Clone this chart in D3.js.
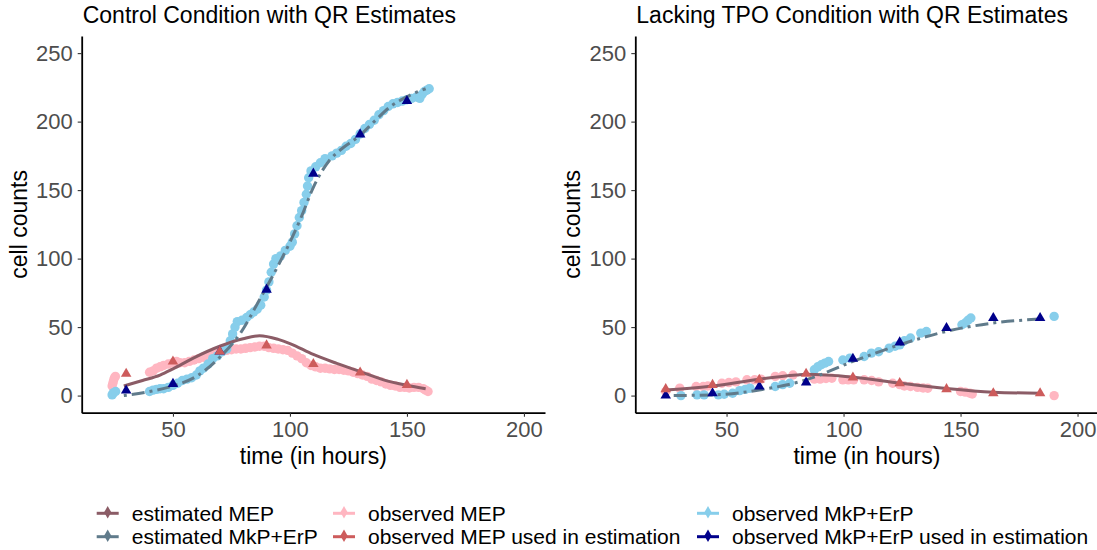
<!DOCTYPE html>
<html>
<head>
<meta charset="utf-8">
<style>
  body { margin: 0; background: #fff; }
  svg { display: block; font-family: "Liberation Sans", Arial, sans-serif; }
</style>
<script src="https://d3js.org/d3.v7.min.js"></script>
<script>

// ---- data: [time (h), cell count] pairs ----

// Control condition
var ctrlObsMEP = [[24,7],[24.3,9],[24.6,11],[25,13],[25.4,14],[40,17],[41.5,18],[43,20],[44.5,21],[46,22],[48,23],[50,24],
  [51.5,25],[53,24],[55,24],[57,25],[59,26],[61,27],[63,28],[65,28.5],[67,30],[69,31],[71,32],[73,33],[75,33.5],[77,34],
  [79,34],[81,34.5],[83,35],[85,35.5],[87,36],[89,36],[91,35],[93,34.5],[95,34],[97,33.5],[99,33],[101,31],[103,29],
  [105,27],[107,24],[109,22],[111,21],[113,20],[115,20],[117,19.5],[119,19],[121,19],[123,18.5],[125,18],[127,17],
  [129,16],[131,15],[133,14],[135,12],[137,11],[139,10],[141,8.5],[143,7.5],[145,7],[147,6],[149,6],[151,5.5],[153,6],
  [155,6],[157,5],[158,4],[159,3]];
var ctrlObsMKP = [[24,0.5],[24.5,2],[25.5,3],[40,3],[41.5,4],[43,4.5],[44.5,5],[46,5],[48,6],[50,7.5],[52,9],[54,11],
  [56,12],[58,13],[60,15],[61.5,18],[63,20],[65,23],[67,27],[69,29],[71,32],[73,34],[74.5,40],[75.5,45],[76.5,50],
  [77.5,54],[79.5,55],[81.5,57],[83,59],[84.5,61],[86,63],[87.5,66],[89,72],[90,77],[91,83],[92,90],[93,96],[94,100],
  [96,102],[98,106],[100,109],[101,112],[102,118],[103,124],[104,130],[105,135],[106,141],[107,147],[107.5,153],
  [108,159],[109,164],[111,167],[113,170],[115,173],[118,175],[120,177],[122,179],[124,182],[126,184],[128,187],
  [130,191],[132,195],[134,198],[136,201],[138,205],[140,208],[142,211],[144,213],[146,214],[148,215],[150,216],
  [152,217],[154,218],[155.5,217],[156.5,220],[157.5,222],[158.5,223],[159.5,224]];
var ctrlUsedMEP = [[30,15.9],[50,24.9],[70,32.2],[90,36.6],[110,23],[130,16.8],[150,7.8]];
var ctrlUsedMKP = [[30,3.7],[50,8.5],[70,32.2],[90,77.3],[110,162],[130,190.7],[150,215]];
var ctrlEstMEP = [[29,7],[37,11],[44.5,15],[50,19.5],[58.7,27.4],[70,36],[80,41.5],[87,43.7],[95,41],[100,38],[110,30],
  [120,23.5],[130,17.5],[140,11.5],[150,7.5],[158,5]];
var ctrlEstMKP = [[29,0],[40,3],[50,7],[60,14],[70,28],[79,46],[87,70],[95,95],[100,112],[105,131],[110,152],
  [117,172],[122,180],[130,190],[136,200],[143,211],[151,219],[158,224]];

// Lacking TPO condition
var tpoObsMEP = [[24,3],[30,5.4],[37,6.6],[40,6.6],[42,7],[48,9],[51,9.5],[54,10],[58.7,11.5],[62,11.5],[64.7,12],
  [70.8,14],[74,14.5],[78.4,15],[87.5,12],[90,12],[92.5,12.5],[95,12.7],[99.7,11.5],[102,11.5],[104.3,11.5],
  [108.8,11.5],[112,11],[115,10],[121,9],[124,8],[126,7],[128.6,6.6],[131.6,6],[134,5.5],[136,5.4],[150,3],
  [152,2.5],[154,1.8],[155,1.2],[190,0]];
var tpoObsMKP = [[30.5,0],[37.4,0.5],[40.4,0.5],[46.5,0.5],[49,1],[52.6,1.7],[55.6,3.6],[58,4.5],[60,5.4],[70.8,6.6],
  [74,8],[77,9],[87.5,18.8],[89,21],[90.5,22.5],[92,23.7],[93.6,24.9],[99.7,26],[102.7,27.3],[108.8,28.5],
  [111.9,31],[115,32],[119.5,34.6],[122,36],[124,37],[126,40],[128.6,42],[133,45.6],[135.4,46.8],[150.6,51.7],
  [152,53],[153.2,55],[154.4,56.6],[190,57.8]];
var tpoUsedMEP = [[24,4.7],[44,7.8],[64,11.5],[84,15.9],[104,13.2],[124,9.1],[144,4.7],[164,1.7],[184,1.7]];
var tpoUsedMKP = [[24,0],[44,1.7],[64,6.6],[84,9.5],[104,26.9],[124,38.8],[144,49.3],[164,56.6],[184,56.6]];
var tpoEstMEP = [[24,4],[44,7],[64,12],[80,15],[84,15.5],[104,13.4],[124,9.1],[144,5.2],[164,2.5],[184,1.7]];
var tpoEstMKP = [[24,0],[44,0.5],[64,4.1],[84,11.5],[104,24.9],[124,37.1],[144,46.9],[164,53],[184,55.9]];

// axes and legend
var xTicks = [50, 100, 150, 200];
var yTicks = [0, 50, 100, 150, 200, 250];
var panelTitles = ["Control Condition with QR Estimates", "Lacking TPO Condition with QR Estimates"];
var legendLabels = ["estimated MEP", "estimated MkP+ErP", "observed MEP", "observed MEP used in estimation",
  "observed MkP+ErP", "observed MkP+ErP used in estimation"];
var legendColors = ["#8b5c66", "#607b8b", "#ffb6c1", "#cd5c5c", "#87ceeb", "#00008b"];

function draw() {
  var svg = d3.select("svg"),
      pw = 463.3, ph = 376.7, top = 36,
      lefts = [81.7, 635.3];

  var x = d3.scaleLinear().domain([11, 209]).range([0, pw]);
  var y = d3.scaleLinear().domain([-12.5, 262.5]).range([ph, 0]);

  var line = d3.line()
      .x(function(d) { return x(d[0]); })
      .y(function(d) { return y(d[1]); })
      .curve(d3.curveMonotoneX);

  var tri = d3.symbol().type(d3.symbolTriangle).size(48);

  var panels = [
    { obsMEP: ctrlObsMEP, obsMKP: ctrlObsMKP, usedMEP: ctrlUsedMEP, usedMKP: ctrlUsedMKP, estMEP: ctrlEstMEP, estMKP: ctrlEstMKP },
    { obsMEP: tpoObsMEP, obsMKP: tpoObsMKP, usedMEP: tpoUsedMEP, usedMKP: tpoUsedMKP, estMEP: tpoEstMEP, estMKP: tpoEstMKP }
  ];

  panels.forEach(function(p, i) {
    var g = svg.append("g").attr("transform", "translate(" + lefts[i] + "," + top + ")");

    // axes
    var gx = g.append("g")
        .attr("transform", "translate(0," + ph + ")")
        .call(d3.axisBottom(x).tickValues(xTicks).tickSize(4).tickSizeOuter(0).tickPadding(5));
    var gy = g.append("g")
        .call(d3.axisLeft(y).tickValues(yTicks).tickSize(4).tickSizeOuter(0).tickPadding(5));
    [gx, gy].forEach(function(a) {
      a.select(".domain").attr("stroke", "#000").attr("stroke-width", 1.8);
      a.selectAll(".tick line").attr("stroke", "#333").attr("stroke-width", 1.1);
      a.selectAll(".tick text").attr("fill", "#4d4d4d").style("font-size", "22px")
        .style("font-family", "'Liberation Sans', Arial, sans-serif");
    });

    // observed points
    g.append("g").selectAll("circle").data(p.obsMEP).join("circle")
        .attr("cx", function(d) { return x(d[0]); })
        .attr("cy", function(d) { return y(d[1]); })
        .attr("r", 4.7).attr("fill", legendColors[2]);
    g.append("g").selectAll("circle").data(p.obsMKP).join("circle")
        .attr("cx", function(d) { return x(d[0]); })
        .attr("cy", function(d) { return y(d[1]); })
        .attr("r", 4.7).attr("fill", legendColors[4]);

    // estimates
    g.append("path").datum(p.estMEP)
        .attr("fill", "none").attr("stroke", legendColors[0]).attr("stroke-width", 3)
        .attr("d", line);
    g.append("path").datum(p.estMKP)
        .attr("fill", "none").attr("stroke", legendColors[1]).attr("stroke-width", 3)
        .attr("stroke-dasharray", "3,5,13,5")
        .attr("d", line);

    // points used in estimation
    g.append("g").selectAll("path").data(p.usedMKP).join("path")
        .attr("transform", function(d) { return "translate(" + x(d[0]) + "," + y(d[1]) + ")"; })
        .attr("d", tri).attr("fill", legendColors[5]);
    g.append("g").selectAll("path").data(p.usedMEP).join("path")
        .attr("transform", function(d) { return "translate(" + x(d[0]) + "," + y(d[1]) + ")"; })
        .attr("d", tri).attr("fill", legendColors[3]);

    // titles
    g.append("text").attr("x", 1).attr("y", 23.3 - top)
        .style("font-size", "23px").text(panelTitles[i]);
    g.append("text").attr("x", pw / 2).attr("y", 464 - top)
        .attr("text-anchor", "middle").style("font-size", "23px").text("time (in hours)");
    g.append("text")
        .attr("transform", "translate(-55," + (ph / 2) + ") rotate(-90)")
        .attr("text-anchor", "middle").style("font-size", "23px").text("cell counts");
  });

  // legend, filled column by column
  var colX = [96.7, 333, 697], rowY = [513.3, 536.7];
  var leg = svg.append("g");
  legendLabels.forEach(function(lab, k) {
    var cx = colX[Math.floor(k / 2)], cy = rowY[k % 2];
    var item = leg.append("g").attr("transform", "translate(" + cx + "," + cy + ")");
    item.append("line").attr("x1", 0).attr("x2", 22).attr("y1", 0).attr("y2", 0)
        .attr("stroke", legendColors[k]).attr("stroke-width", 3);
    item.append("path").attr("transform", "translate(11,-1)")
        .attr("d", d3.symbol().type(d3.symbolDiamond).size(45)).attr("fill", legendColors[k]);
    item.append("text").attr("x", 35).attr("y", 7.5)
        .style("font-size", "21px").text(lab);
  });
}

window.onload = draw;
</script>
</head>
<body>
  <svg width="1097" height="550"></svg>
</body>
</html>
